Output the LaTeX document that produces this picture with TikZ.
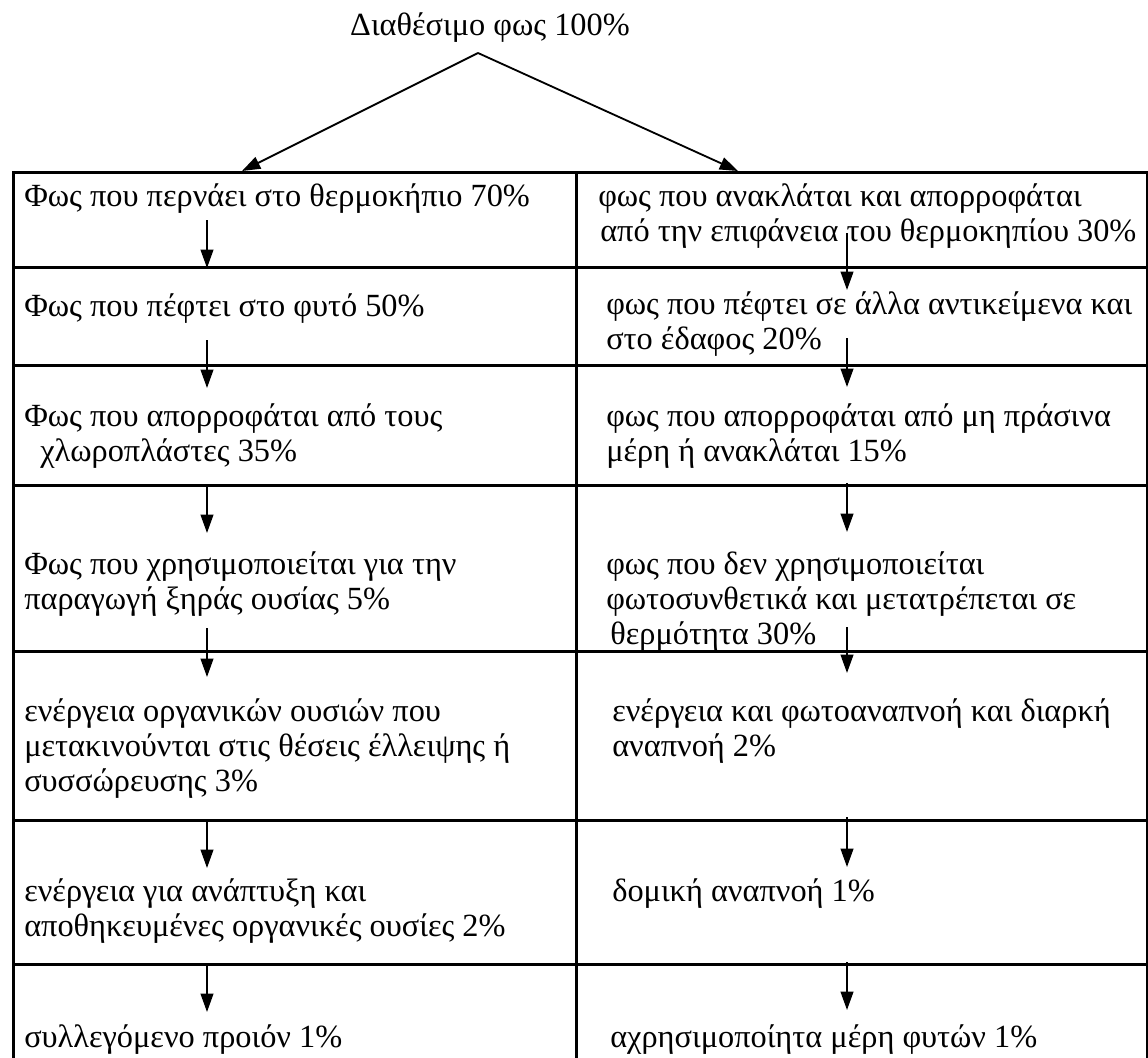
\documentclass[tikz,border=0pt]{standalone}
\usepackage{fontspec}
\setmainfont{Liberation Serif}
\usetikzlibrary{arrows.meta}

\begin{document}
\begin{tikzpicture}[
            x = 0.025cm, y = -0.025cm, % one unit is one pixel of the scan
            > = {Triangle[length=13pt,width=9pt]}, % arrow head style
            flow/.style = {->, line width=1.3pt},
            cellL/.style = {draw, line width=1.8pt, anchor=north west, inner sep=0pt, minimum width=14.075cm},
            cellR/.style = {draw, line width=1.8pt, anchor=north west, inner sep=0pt, minimum width=14.275cm},
            txt/.style = {anchor=north west, align=left, inner sep=0pt, font=\fontsize{23}{25}\selectfont}
        ]
\useasboundingbox (0,0) rectangle (1148,1057);

% title and the two branches
\node[font=\fontsize{23}{25}\selectfont] (title) at (490,28) {Διαθέσιμο φως 100\%};
\coordinate (apex) at (478,53);
\coordinate (inL) at (242,171);
\coordinate (inR) at (738,171);

% the table
\node[cellL, minimum height=2.375cm] (L1) at (12,171) {};
\node[cellR, minimum height=2.375cm] (R1) at (575,171) {};
\node[cellL, minimum height=2.45cm] (L2) at (12,266) {};
\node[cellR, minimum height=2.45cm] (R2) at (575,266) {};
\node[cellL, minimum height=3cm] (L3) at (12,364) {};
\node[cellR, minimum height=3cm] (R3) at (575,364) {};
\node[cellL, minimum height=4.15cm] (L4) at (12,484) {};
\node[cellR, minimum height=4.15cm] (R4) at (575,484) {};
\node[cellL, minimum height=4.225cm] (L5) at (12,650) {};
\node[cellR, minimum height=4.225cm] (R5) at (575,650) {};
\node[cellL, minimum height=3.6cm] (L6) at (12,819) {};
\node[cellR, minimum height=3.6cm] (R6) at (575,819) {};
\node[cellL, minimum height=2.925cm] (L7) at (12,963) {};
\node[cellR, minimum height=2.925cm] (R7) at (575,963) {};

% left column texts
\node[txt] (tL1) at (24,183) {Φως που περνάει στο θερμοκήπιο 70\%};
\node[txt] (tL2) at (24,293) {Φως που πέφτει στο φυτό 50\%};
\node[txt] (tL3) at (24,403) {Φως που απορροφάται από τους\\\hspace*{0.4cm}χλωροπλάστες 35\%};
\node[txt] (tL4) at (24,551) {Φως που χρησιμοποιείται για την\\παραγωγή ξηράς ουσίας 5\%};
\node[txt] (tL5) at (24,698) {ενέργεια οργανικών ουσιών που\\μετακινούνται στις θέσεις έλλειψης ή\\συσσώρευσης 3\%};
\node[txt] (tL6) at (24,878) {ενέργεια για ανάπτυξη και\\αποθηκευμένες οργανικές ουσίες 2\%};
\node[txt] (tL7) at (24,1024) {συλλεγόμενο προιόν 1\%};

% right column texts
\node[txt] (tR1) at (598,183) {φως που ανακλάται και απορροφάται\\\hspace*{0.05cm}από την επιφάνεια του θερμοκηπίου 30\%};
\node[txt] (tR2) at (606,291) {φως που πέφτει σε άλλα αντικείμενα και\\στο έδαφος 20\%};
\node[txt] (tR3) at (606,403) {φως που απορροφάται από μη πράσινα\\μέρη ή ανακλάται 15\%};
\node[txt] (tR4) at (606,551) {φως που δεν χρησιμοποιείται\\φωτοσυνθετικά και μετατρέπεται σε\\\hspace*{0.1cm}θερμότητα 30\%};
\node[txt] (tR5) at (612,698) {ενέργεια και φωτοαναπνοή και διαρκή\\αναπνοή 2\%};
\node[txt] (tR6) at (612,878) {δομική αναπνοή 1\%};
\node[txt] (tR7) at (610,1024) {αχρησιμοποίητα μέρη φυτών 1\%};

% ends of the down arrows
\coordinate (aL1) at (207,220); \coordinate (bL1) at (207,268);
\coordinate (aL2) at (207,340); \coordinate (bL2) at (207,388);
\coordinate (aL3) at (207,487); \coordinate (bL3) at (207,533);
\coordinate (aL4) at (207,628); \coordinate (bL4) at (207,677);
\coordinate (aL5) at (207,822); \coordinate (bL5) at (207,868);
\coordinate (aL6) at (207,965); \coordinate (bL6) at (207,1012);
\coordinate (aR1) at (847,233); \coordinate (bR1) at (847,290);
\coordinate (aR2) at (847,338); \coordinate (bR2) at (847,387);
\coordinate (aR3) at (847,483); \coordinate (bR3) at (847,532);
\coordinate (aR4) at (847,627); \coordinate (bR4) at (847,673);
\coordinate (aR5) at (847,817); \coordinate (bR5) at (847,867);
\coordinate (aR6) at (847,962); \coordinate (bR6) at (847,1010);

 \path [flow] (apex) edge (inL);
 \path [flow] (apex) edge (inR);
 \path [flow] (aL1) edge (bL1);
 \path [flow] (aL2) edge (bL2);
 \path [flow] (aL3) edge (bL3);
 \path [flow] (aL4) edge (bL4);
 \path [flow] (aL5) edge (bL5);
 \path [flow] (aL6) edge (bL6);
 \path [flow] (aR1) edge (bR1);
 \path [flow] (aR2) edge (bR2);
 \path [flow] (aR3) edge (bR3);
 \path [flow] (aR4) edge (bR4);
 \path [flow] (aR5) edge (bR5);
 \path [flow] (aR6) edge (bR6);
\end{tikzpicture}
\end{document}
